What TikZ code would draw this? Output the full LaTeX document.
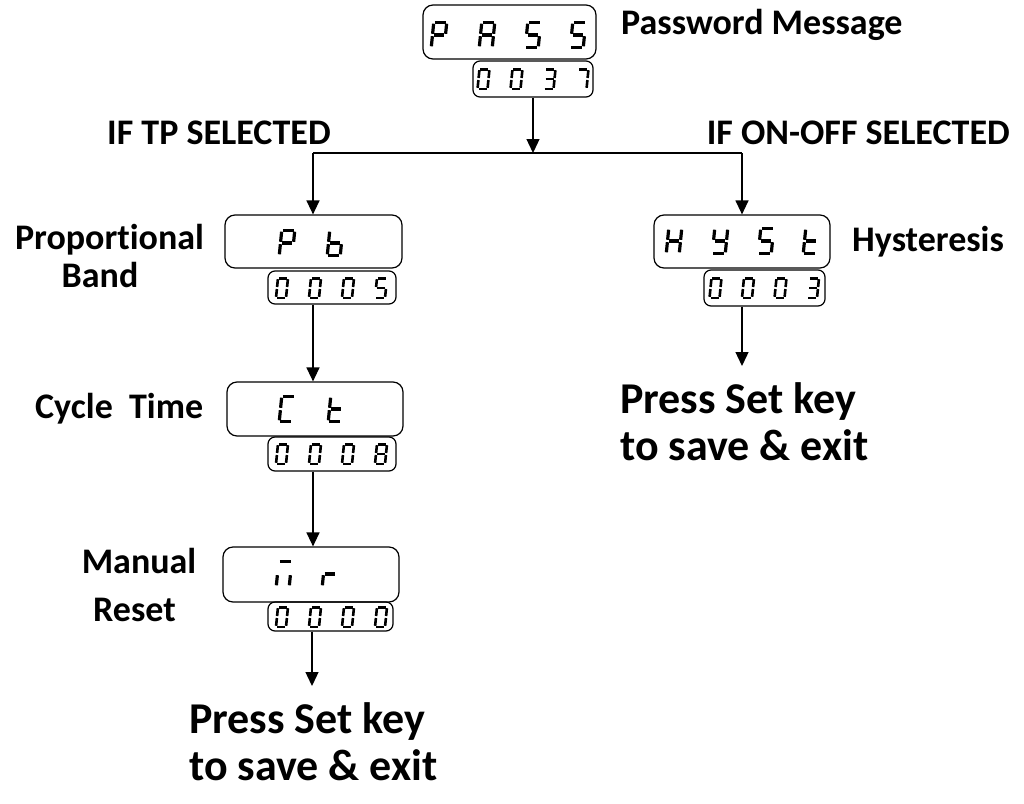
\documentclass[tikz,border=0pt]{standalone}
\usepackage{fontspec}
\setmainfont{Carlito}[Ligatures={NoCommon}, RawFeature={-liga;-clig;-dlig}]
\usetikzlibrary{arrows.meta}
\tikzset{
  lbl/.style={font=\bfseries\fontsize{36}{38}\selectfont, inner sep=0pt},
  bigtxt/.style={font=\bfseries\fontsize{44}{47}\selectfont, inner sep=0pt},
  disp/.style={draw, rounded corners=10pt, line width=1.2pt, inner sep=0pt},
  sdisp/.style={draw, rounded corners=7pt, line width=1.2pt, inner sep=0pt},
  conn/.style={line width=1.3pt},
  arr/.style={conn, -{Triangle[width=13pt,length=14pt]}},
}
\pgfkeys{
 /seg/a/.code={\draw[line width=\seglw pt] ({-\hw+\gp},-\hh) -- ({\hw-\gp},-\hh);},
 /seg/b/.code={\draw[line width=\seglw pt] (\hw,{-\hh+\gp}) -- (\hw,-\gp);},
 /seg/c/.code={\draw[line width=\seglw pt] (\hw,\gp) -- (\hw,{\hh-\gp});},
 /seg/d/.code={\draw[line width=\seglw pt] ({-\hw+\gp},\hh) -- ({\hw-\gp},\hh);},
 /seg/e/.code={\draw[line width=\seglw pt] (-\hw,\gp) -- (-\hw,{\hh-\gp});},
 /seg/f/.code={\draw[line width=\seglw pt] (-\hw,{-\hh+\gp}) -- (-\hw,-\gp);},
 /seg/g/.code={\draw[line width=\seglw pt] ({-\hw+\gp},0) -- ({\hw-\gp},0);},
}
\newcommand\sevenseg[7]{%
  \begin{scope}[shift={(#1,#2)}, xslant=0.1]
    \def\hw{#3}\def\hh{#4}\def\gp{#5}\def\seglw{#6}%
    \foreach \s in #7 {\pgfkeys{/seg/\s}}
  \end{scope}}
\newcommand\bigch[3]{\sevenseg{#1}{#2}{6.5}{12.5}{1.2}{3.2}{#3}}
\newcommand\smch[3]{\sevenseg{#1}{#2}{5}{9.8}{1.0}{2.6}{#3}}
\def\cP{a,b,f,g,e}
\def\cA{a,b,c,e,f,g}
\def\cS{a,f,g,c,d}
\def\cZ{a,b,c,d,e,f}
\def\cT{a,b,g,c,d}
\def\cSv{a,b,c}
\def\cE{a,b,c,d,e,f,g}
\def\cb{f,e,g,c,d}
\def\cC{a,f,e,d}
\def\ct{f,e,g,d}
\def\cH{b,c,e,f,g}
\def\cy{b,c,d,f,g}
\def\cm{a,c,e}
\def\cr{e,g}
\begin{document}
\begin{tikzpicture}[x=1pt, y=-1pt]
\useasboundingbox (0,0) rectangle (1024,803);
% display boxes
\node[disp, minimum width=173pt, minimum height=54pt] (pass) at (509.5,32) {};
\node[sdisp, minimum width=120pt, minimum height=36pt] (passs) at (533,79) {};
\node[disp, minimum width=177pt, minimum height=53pt] (pb) at (313.5,241.5) {};
\node[sdisp, minimum width=128pt, minimum height=33pt] (pbs) at (332,287.5) {};
\node[disp, minimum width=176pt, minimum height=54pt] (ct) at (315,409) {};
\node[sdisp, minimum width=128pt, minimum height=34pt] (cts) at (332,454) {};
\node[disp, minimum width=176pt, minimum height=55pt] (mr) at (311,574.5) {};
\node[sdisp, minimum width=125pt, minimum height=29pt] (mrs) at (330.5,616.5) {};
\node[disp, minimum width=176pt, minimum height=53pt] (hy) at (742,241.5) {};
\node[sdisp, minimum width=121pt, minimum height=36pt] (hys) at (764.5,288) {};
% digits
\bigch{439}{35}{\cP}\bigch{487}{35}{\cA}\bigch{533}{35}{\cS}\bigch{578}{35}{\cS}
\smch{483.5}{79}{\cZ}\smch{516.5}{79}{\cZ}\smch{549.5}{79}{\cT}\smch{582.5}{79}{\cSv}
\bigch{287}{243}{\cP}\bigch{335}{243}{\cb}
\smch{282}{288}{\cZ}\smch{315}{288}{\cZ}\smch{348}{288}{\cZ}\smch{381}{288}{\cS}
\bigch{287}{409}{\cC}\bigch{336}{409}{\ct}
\smch{282}{454}{\cZ}\smch{315}{454}{\cZ}\smch{348}{454}{\cZ}\smch{381}{454}{\cE}
\bigch{284}{574}{\cm}\bigch{330}{574}{\cr}
\smch{282}{617}{\cZ}\smch{315}{617}{\cZ}\smch{348}{617}{\cZ}\smch{381}{617}{\cZ}
\bigch{674}{241}{\cH}\bigch{720}{241}{\cy}\bigch{766}{241}{\cS}\bigch{811}{241}{\ct}
\smch{715.5}{288}{\cZ}\smch{748}{288}{\cZ}\smch{780.5}{288}{\cZ}\smch{813}{288}{\cT}
% labels
\node[lbl, anchor=base west] (pwd) at (621,34) {Password Message};
\node[lbl, anchor=base west] (iftp) at (107,144) {IF TP SELECTED};
\node[lbl, anchor=base east] (ifon) at (1010,144) {IF ON-OFF SELECTED};
\node[lbl, anchor=base] (prop) at (109.5,249) {Proportional};
\node[lbl, anchor=base] (band) at (100,287) {Band};
\node[lbl, anchor=base west] (hyst) at (852,251) {Hysteresis};
\node[lbl, anchor=base west] (cyc) at (35,418) {Cycle\ \ Time};
\node[lbl, anchor=base] (man) at (139,573) {Manual};
\node[lbl, anchor=base] (res) at (134.5,621) {Reset};
\node[bigtxt, anchor=base west] (p1a) at (620,413) {Press Set key};
\node[bigtxt, anchor=base west] (p1b) at (620,460) {to save \& exit};
\node[bigtxt, anchor=base west] (p2a) at (189,733) {Press Set key};
\node[bigtxt, anchor=base west] (p2b) at (189,780) {to save \& exit};
% connectors
\coordinate (jl) at (313,153);
\coordinate (jr) at (742,153);
\coordinate (e1) at (312,686);
\coordinate (e2) at (742,366);
\draw[arr] (passs.south) -- (passs.south |- jl);
\draw[conn] (jl) -- (jr);
\draw[arr] (jl) -- (jl |- pb.north);
\draw[arr] (jr) -- (hy.north);
\draw[arr] (pbs.south -| jl) -- (jl |- ct.north);
\draw[arr] (cts.south -| jl) -- (jl |- mr.north);
\draw[arr] (mrs.south -| e1) -- (e1);
\draw[arr] (hys.south -| e2) -- (e2);
\end{tikzpicture}
\end{document}
